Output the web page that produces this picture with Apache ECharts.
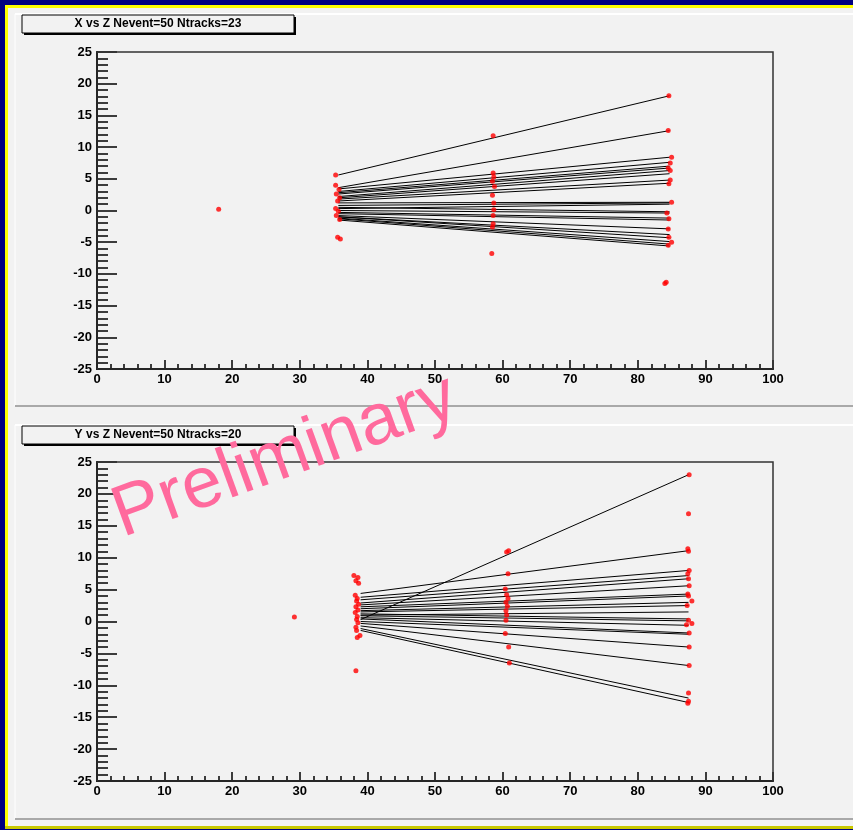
<!DOCTYPE html>
<html>
<head>
<meta charset="utf-8">
<script src="https://cdn.jsdelivr.net/npm/echarts@6/dist/echarts.min.js"></script>
<style>
  html, body { margin: 0; padding: 0; background: #000080; }
  #main { width: 853px; height: 830px; }
</style>
</head>
<body>
<div id="main"></div>
<script>
// X vs Z : hits [z, x]
const hitsXZ = [
  [18.0, 0.2],
  [35.3, 5.6], [35.3, 4.0], [35.8, 3.3], [35.4, 2.6], [35.9, 2.0], [35.6, 1.5],
  [35.3, 0.3], [35.7, -0.1], [35.4, -0.8], [35.9, -1.4], [35.6, -4.2], [36.0, -4.5],
  [58.6, 11.8], [58.6, 5.9], [58.7, 5.3], [58.5, 4.6], [58.8, 3.8], [58.5, 2.4],
  [58.7, 1.2], [58.7, 0.1], [58.6, -0.8], [58.6, -2.1], [58.5, -2.6], [58.4, -6.8],
  [84.6, 18.1], [84.5, 12.6], [85.0, 8.4], [84.8, 7.5], [84.5, 6.7], [84.8, 6.3],
  [84.8, 4.8], [84.6, 4.2], [85.0, 1.3], [84.3, -0.4], [84.6, -1.3], [84.5, -2.9],
  [84.6, -4.2], [85.0, -5.0], [84.5, -5.5], [84.2, -11.3], [84.0, -11.5],
]
// X vs Z : tracks [x at zStartXZ, x at zEndXZ]
const zStartXZ = 35.7
const zEndXZ = 84.7
const tracksXZ = [
  [5.6, 18.1], [3.6, 12.6], [3.4, 8.4], [3.0, 7.6], [2.8, 7.0], [2.6, 6.7],
  [2.2, 6.3], [2.0, 5.8], [1.8, 4.8], [1.5, 4.3], [1.2, 1.3], [0.8, 1.2],
  [0.3, 1.0], [0.0, -0.4], [-0.3, -1.2], [-0.5, -1.5], [-0.8, -2.9], [-1.0, -3.8],
  [-1.0, -4.3], [-1.2, -4.9], [-1.3, -5.3], [-1.5, -5.6], [0.5, -0.2],
]

// Y vs Z : hits [z, y]
const hitsYZ = [
  [29.2, 0.7],
  [38.0, 7.2], [38.6, 6.9], [38.3, 6.4], [38.7, 6.0], [38.2, 4.1], [38.5, 3.6],
  [38.4, 3.2], [38.7, 2.7], [38.3, 2.3], [38.6, 1.8], [38.2, 1.4], [38.5, 0.8],
  [38.4, 0.3], [38.6, -0.2], [38.3, -0.9], [38.4, -1.4], [38.9, -2.2], [38.5, -2.5],
  [38.3, -7.7],
  [60.9, 11.1], [60.6, 10.9], [60.8, 7.5], [60.4, 5.1], [60.6, 4.2], [60.8, 3.6],
  [60.5, 3.0], [60.7, 2.4], [60.5, 1.7], [60.6, 1.0], [60.5, 0.2], [60.4, -1.9],
  [60.9, -4.0], [61.0, -6.5],
  [87.6, 23.0], [87.5, 16.9], [87.4, 11.4], [87.5, 11.0], [87.6, 8.0], [87.4, 7.5],
  [87.5, 6.7], [87.6, 5.6], [87.4, 4.3], [87.5, 4.0], [88.0, 3.2], [87.3, 2.5],
  [87.5, 0.2], [88.0, -0.3], [87.2, -0.5], [87.6, -1.8], [87.6, -4.0], [87.6, -6.9],
  [87.5, -11.2], [87.5, -12.5], [87.4, -12.8],
]
const zStartYZ = 39.0
const zEndYZ = 87.5
const tracksYZ = [
  [0.3, 23.0], [4.4, 11.1], [3.8, 8.0], [3.4, 7.2], [2.9, 6.7], [2.6, 5.6],
  [2.3, 4.3], [2.0, 4.0], [1.7, 3.0], [1.5, 2.5], [1.2, 0.4], [1.0, 1.5],
  [0.9, 0.1], [0.6, -0.6], [0.4, -1.8], [0.0, -2.0], [-0.3, -4.0], [-0.7, -6.9],
  [-1.1, -12.0], [-1.4, -12.7],
]

const titles = ['X vs Z Nevent=50 Ntracks=23', 'Y vs Z Nevent=50 Ntracks=20']

const labelFont = {
  color: '#000',
  fontFamily: 'Liberation Sans',
  fontWeight: 'bold',
  fontSize: 13,
}

const makeX = (i) => ({
  type: 'value',
  gridIndex: i,
  min: 0,
  max: 100,
  interval: 10,
  axisLine: { onZero: false, lineStyle: { color: '#000', width: 2 } },
  axisTick: { inside: true, length: 9, lineStyle: { color: '#000', width: 1.5 } },
  minorTick: { show: true, splitNumber: 5, length: 5, lineStyle: { color: '#000', width: 1.5 } },
  axisLabel: { ...labelFont, margin: 4 },
  splitLine: { show: false },
})

const makeY = (i) => ({
  type: 'value',
  gridIndex: i,
  min: -25,
  max: 25,
  interval: 5,
  axisLine: { onZero: false, lineStyle: { color: '#000', width: 2 } },
  axisTick: { inside: true, length: 20, lineStyle: { color: '#000', width: 1.5 } },
  minorTick: { show: true, splitNumber: 5, length: 11, lineStyle: { color: '#000', width: 1.5 } },
  axisLabel: { ...labelFont, margin: 5 },
  splitLine: { show: false },
})

const toLines = (tracks, z1, z2) =>
  tracks.map((t) => ({ coords: [[z1, t[0]], [z2, t[1]]] }))

const titleBox = (y, text) => [
  { type: 'rect', shape: { x: 24, y: y + 2, width: 272, height: 18 }, style: { fill: '#000' }, z: 10 },
  { type: 'rect', shape: { x: 22, y: y, width: 272, height: 18 }, style: { fill: '#f2f2f2', stroke: '#000', lineWidth: 1 }, z: 11 },
  {
    type: 'text', x: 158, y: y + 9, z: 12,
    style: { text: text, fill: '#000', font: 'bold 12px "Liberation Sans"', align: 'center', verticalAlign: 'middle' },
  },
]

const chart = echarts.init(document.getElementById('main'))
chart.setOption({
  backgroundColor: '#000080',
  animation: false,
  grid: [
    { left: 97, top: 52, width: 676, height: 317, show: true, borderColor: '#333', borderWidth: 1.5, backgroundColor: 'transparent', z: 3 },
    { left: 97, top: 462, width: 676, height: 319, show: true, borderColor: '#333', borderWidth: 1.5, backgroundColor: 'transparent', z: 3 },
  ],
  xAxis: [makeX(0), makeX(1)],
  yAxis: [makeY(0), makeY(1)],
  series: [
    {
      type: 'lines', coordinateSystem: 'cartesian2d', xAxisIndex: 0, yAxisIndex: 0,
      lineStyle: { color: '#000', width: 1, opacity: 1 },
      data: toLines(tracksXZ, zStartXZ, zEndXZ), z: 4,
    },
    {
      type: 'scatter', xAxisIndex: 0, yAxisIndex: 0,
      symbol: 'circle', symbolSize: 5, itemStyle: { color: '#ff0000' },
      data: hitsXZ, z: 5,
    },
    {
      type: 'lines', coordinateSystem: 'cartesian2d', xAxisIndex: 1, yAxisIndex: 1,
      lineStyle: { color: '#000', width: 1, opacity: 1 },
      data: toLines(tracksYZ, zStartYZ, zEndYZ), z: 4,
    },
    {
      type: 'scatter', xAxisIndex: 1, yAxisIndex: 1,
      symbol: 'circle', symbolSize: 5, itemStyle: { color: '#ff0000' },
      data: hitsYZ, z: 5,
    },
  ],
  graphic: [
    // frame: yellow line, light canvas
    { type: 'rect', shape: { x: 5, y: 5, width: 848, height: 824 }, style: { fill: '#ffff00' }, z: -10 },
    { type: 'rect', shape: { x: 5, y: 826, width: 848, height: 3 }, style: { fill: '#c8c800' }, z: -9 },
    { type: 'rect', shape: { x: 8, y: 8, width: 845, height: 818 }, style: { fill: '#f2f2f2' }, z: -8 },
    // pads bevels
    { type: 'line', shape: { x1: 15, y1: 14, x2: 853, y2: 14 }, style: { stroke: '#ffffff', lineWidth: 2 }, z: -7 },
    { type: 'line', shape: { x1: 15, y1: 14, x2: 15, y2: 406 }, style: { stroke: '#ffffff', lineWidth: 1 }, z: -7 },
    { type: 'line', shape: { x1: 15, y1: 406, x2: 853, y2: 406 }, style: { stroke: '#a9a9a9', lineWidth: 2 }, z: -7 },
    { type: 'line', shape: { x1: 15, y1: 425, x2: 853, y2: 425 }, style: { stroke: '#ffffff', lineWidth: 2 }, z: -7 },
    { type: 'line', shape: { x1: 15, y1: 425, x2: 15, y2: 819 }, style: { stroke: '#ffffff', lineWidth: 1 }, z: -7 },
    { type: 'line', shape: { x1: 15, y1: 819, x2: 853, y2: 819 }, style: { stroke: '#a9a9a9', lineWidth: 2 }, z: -7 },
    ...titleBox(15, titles[0]),
    ...titleBox(426, titles[1]),
    {
      type: 'text', x: 285, y: 457, rotation: (20 * Math.PI) / 180, z: 100,
      style: { text: 'Preliminary', fill: '#ff6a9d', font: '72px "Liberation Sans"', align: 'center', verticalAlign: 'middle' },
    },
  ],
})
</script>
</body>
</html>
